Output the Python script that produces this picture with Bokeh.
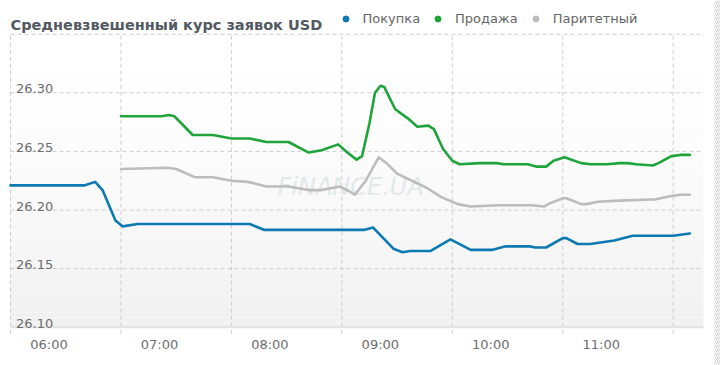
from bokeh.plotting import figure
from bokeh.models import Range1d, Label, Legend, LegendItem, BoxAnnotation, ColumnDataSource
from bokeh.core.properties import value
from bokeh.embed import file_html
from bokeh.resources import INLINE

TITLE = "Средневзвешенный курс заявок USD"
SERIES_NAMES = ["Покупка", "Продажа", "Паритетный"]
SERIES_COLORS = ["#0c79b2", "#1fa43b", "#bcbcbc"]
HOUR_TICKS = [6, 7, 8, 9, 10, 11, 12]
HOUR_LABELS = ["06:00", "07:00", "08:00", "09:00", "10:00", "11:00"]
Y_TICKS = [26.10, 26.15, 26.20, 26.25, 26.30]
Y_TICK_LABELS = ["26.10", "26.15", "26.20", "26.25", "26.30"]
Y_TOP = 26.35

buy_times = ["06:00", "06:40", "06:46", "06:50", "06:57", "07:01", "07:09", "08:10", "08:18",
             "09:12", "09:17", "09:28", "09:33", "09:37", "09:48", "09:59", "10:10", "10:22",
             "10:29", "10:42", "10:45", "10:51", "11:00", "11:02", "11:08", "11:15", "11:28",
             "11:38", "12:00", "12:09"]
buy_values = [26.221, 26.221, 26.224, 26.217, 26.191, 26.186, 26.188, 26.188, 26.183,
              26.183, 26.185, 26.167, 26.164, 26.165, 26.165, 26.175, 26.166, 26.166,
              26.169, 26.169, 26.168, 26.168, 26.176, 26.176, 26.171, 26.171, 26.174,
              26.178, 26.178, 26.180]

sell_times = ["07:00", "07:22", "07:26", "07:29", "07:39", "07:50", "08:00", "08:10", "08:19",
              "08:31", "08:42", "08:49", "08:58", "09:03", "09:08", "09:11", "09:15", "09:18",
              "09:21", "09:23", "09:29", "09:36", "09:41", "09:47", "09:50", "09:55", "10:00",
              "10:04", "10:15", "10:24", "10:28", "10:41", "10:46", "10:51", "10:55", "11:01",
              "11:10", "11:15", "11:24", "11:31", "11:35", "11:40", "11:49", "11:52", "11:59",
              "12:04", "12:09"]
sell_values = [26.280, 26.280, 26.281, 26.280, 26.264, 26.264, 26.261, 26.261, 26.258,
               26.258, 26.249, 26.251, 26.256, 26.249, 26.243, 26.246, 26.274, 26.300,
               26.306, 26.305, 26.286, 26.278, 26.271, 26.272, 26.269, 26.252, 26.242,
               26.239, 26.240, 26.240, 26.239, 26.239, 26.237, 26.237, 26.242, 26.245,
               26.240, 26.239, 26.239, 26.240, 26.240, 26.239, 26.238, 26.240, 26.246,
               26.247, 26.247]

par_times = ["07:00", "07:25", "07:30", "07:40", "07:50", "08:00", "08:09", "08:19", "08:31",
             "08:42", "08:49", "08:59", "09:04", "09:07", "09:13", "09:20", "09:25", "09:30",
             "09:46", "09:54", "10:03", "10:10", "10:26", "10:43", "10:50", "10:52", "11:00",
             "11:02", "11:10", "11:13", "11:19", "11:31", "11:48", "11:50", "11:59", "12:04",
             "12:09"]
par_values = [26.235, 26.236, 26.235, 26.228, 26.228, 26.225, 26.224, 26.220, 26.220,
              26.217, 26.217, 26.220, 26.216, 26.213, 26.225, 26.245, 26.239, 26.231,
              26.219, 26.211, 26.205, 26.203, 26.204, 26.204, 26.203, 26.205, 26.210,
              26.210, 26.205, 26.205, 26.207, 26.208, 26.209, 26.209, 26.212, 26.213,
              26.213]


def to_hours(times):
    return [int(t[:2]) + int(t[3:]) / 60.0 for t in times]


# layout (pixels)
W, H = 720, 365
PX_PER_HOUR = 110.45
PX_PER_UNIT = 1172.0
LEFT_PX = 10         # 06:00 position from canvas left
BASE_PX = 326.7      # 26.10 position from canvas top
PLOT_RIGHT_PX = 703  # right end of plot area from canvas left

x_start = 6 - LEFT_PX / PX_PER_HOUR
x_end = x_start + W / PX_PER_HOUR
y_top = Y_TICKS[0] + BASE_PX / PX_PER_UNIT
y_bottom = y_top - H / PX_PER_UNIT
x_plot_end = x_start + PLOT_RIGHT_PX / PX_PER_HOUR

p = figure(width=W, height=H, x_range=Range1d(x_start, x_end), y_range=Range1d(y_bottom, y_top),
           x_axis_type=None, y_axis_type=None, output_backend="svg", toolbar_location=None,
           min_border=0, outline_line_color=None, background_fill_color="white",
           border_fill_color="white")
p.grid.visible = False

# background gradient of plot area
N = 60
band = (Y_TOP - Y_TICKS[0]) / N
bt, bb, bc = [], [], []
for i in range(N):
    top = Y_TOP - i * band
    t = (i + 0.5) / N
    g = int(round(255 - 15 * t ** 1.6))
    bt.append(top)
    bb.append(top - band)
    bc.append("#%02x%02x%02x" % (g, g, g))
p.quad(left=6, right=x_plot_end, top=bt, bottom=bb, fill_color=bc, line_color=None, level="image")

# grid
gy = Y_TICKS[1:] + [Y_TOP]
p.segment(x0=[6] * len(gy), x1=[x_plot_end] * len(gy), y0=gy, y1=gy, line_color="#cdcdcd",
          line_width=1, line_dash="4 3", level="underlay")
tick_bottom = Y_TICKS[0] - 6.5 / PX_PER_UNIT
p.segment(x0=HOUR_TICKS, x1=HOUR_TICKS, y0=[tick_bottom] * len(HOUR_TICKS), y1=[Y_TOP] * len(HOUR_TICKS),
          line_color="#cdcdcd", line_width=1, line_dash="4 3", level="underlay")
p.segment(x0=[6], x1=[x_plot_end], y0=[Y_TICKS[0]], y1=[Y_TICKS[0]], line_color="#e2e2e2",
          line_width=2, level="underlay")

# watermark
p.add_layout(Label(x=277, y=H - 186, x_units="screen", y_units="screen", text="FiNANCE.UA",
                   text_font="DejaVu Sans", text_font_size="24px", text_font_style="italic",
                   text_color="#e1e9e9", text_baseline="alphabetic", level="underlay"))

# series
series = [(buy_times, buy_values), (sell_times, sell_values), (par_times, par_values)]
items = []
for (tms, vals), name, col in zip(series, SERIES_NAMES, SERIES_COLORS):
    src = ColumnDataSource(dict(x=to_hours(tms), y=vals))
    p.line("x", "y", source=src, line_color=col, line_width=2.6, line_join="round", line_cap="round")
    dot = p.scatter("x", "y", source=src, size=6, fill_color=col, line_color=col, visible=False)
    items.append(LegendItem(label=name, renderers=[dot]))

# tick labels
p.text(x=[6] * len(Y_TICKS), y=Y_TICKS, text=Y_TICK_LABELS, x_offset=5.5, y_offset=-4,
       text_font=value("DejaVu Sans"), text_font_size="13px", text_color="#6d6d6d",
       text_align="left", text_baseline="alphabetic")
p.text(x=HOUR_TICKS[:len(HOUR_LABELS)], y=[Y_TICKS[0]] * len(HOUR_LABELS), text=HOUR_LABELS,
       x_offset=38.5, y_offset=17.3, text_font=value("DejaVu Sans"), text_font_size="13px",
       text_color="#6d6d6d", text_align="center", text_baseline="alphabetic")

# title
p.add_layout(Label(x=10, y=H - 24, x_units="screen", y_units="screen", text=TITLE,
                   text_font="DejaVu Sans", text_font_size="14.5px", text_font_style="bold",
                   text_color="#525962", text_baseline="alphabetic"))

legend = Legend(items=items, orientation="horizontal", location=(337.5, H - 26),
                glyph_width=15, glyph_height=15, label_standoff=10, spacing=10, padding=0,
                margin=0, border_line_alpha=0, background_fill_alpha=0,
                label_text_font="DejaVu Sans", label_text_font_size="13px",
                label_text_color="#666666", label_height=15)
p.add_layout(legend)

# right edge hatch strip
p.add_layout(BoxAnnotation(left=714, right=720, left_units="screen", right_units="screen",
                           fill_alpha=0, line_alpha=0, hatch_pattern="/", hatch_color="#cfcfcf",
                           hatch_scale=4, hatch_weight=1))

open("out.html", "w").write(file_html(p, INLINE))
